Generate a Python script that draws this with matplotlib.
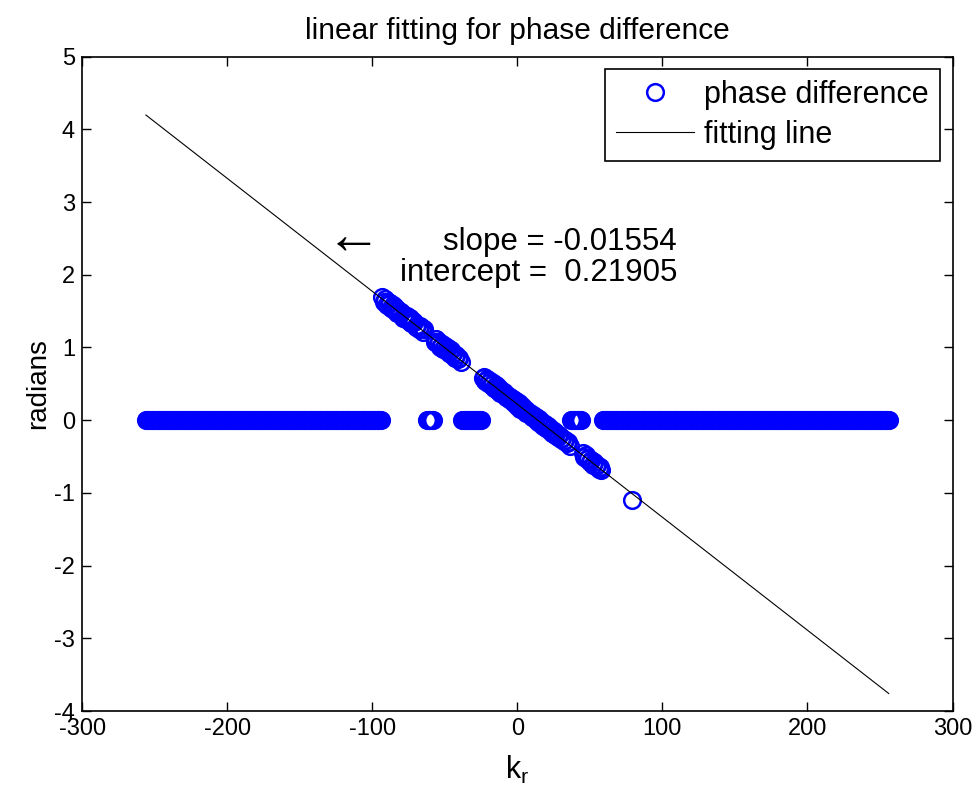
import numpy as np
import matplotlib
matplotlib.use("Agg")
import matplotlib.pyplot as plt

plt.rcParams["font.family"] = ["Liberation Sans", "DejaVu Sans"]
plt.rcParams["axes.unicode_minus"] = False

# k_r ranges where the phase difference is exactly zero (integer k_r)
zero_start = [-256, -62, -38, 37, 59]
zero_end = [-94, -58, -25, 44, 256]

# points that follow the fitted line
diag_k = list(range(-93, -63)) + list(range(-57, -38)) + list(range(-24, 37)) \
    + list(range(45, 59)) + [79]
diag_phase = [
    # k = -93 .. -64
    1.69, 1.62, 1.66, 1.59, 1.63, 1.61, 1.54, 1.58, 1.52, 1.55,
    1.48, 1.52, 1.46, 1.49, 1.41, 1.45, 1.39, 1.43, 1.36, 1.40,
    1.33, 1.36, 1.35, 1.28, 1.31, 1.25, 1.29, 1.27, 1.21, 1.25,
    # k = -57 .. -39
    1.08, 1.12, 1.05, 1.07, 1.01, 1.05, 0.98, 1.02, 0.96, 0.99,
    0.92, 0.96, 0.90, 0.93, 0.86, 0.89, 0.84, 0.86, 0.80,
    # k = -24 .. 36
    0.58, 0.60, 0.54, 0.57, 0.51, 0.54, 0.48, 0.51, 0.44, 0.48,
    0.42, 0.45, 0.38, 0.42, 0.36, 0.39, 0.32, 0.35, 0.29, 0.32,
    0.26, 0.29, 0.23, 0.26, 0.20, 0.23, 0.16, 0.20, 0.14, 0.16,
    0.10, 0.13, 0.08, 0.10, 0.04, 0.07, 0.01, 0.04, -0.02, 0.01,
    -0.05, -0.02, -0.08, -0.05, -0.11, -0.08, -0.14, -0.12, -0.17, -0.15,
    -0.20, -0.18, -0.23, -0.21, -0.26, -0.24, -0.29, -0.27, -0.32, -0.30,
    -0.35,
    # k = 45 .. 58
    -0.45, -0.50, -0.48, -0.54, -0.52, -0.57, -0.55, -0.61, -0.58, -0.63,
    -0.61, -0.67, -0.64, -0.69,
    # k = 79
    -1.10,
]

slope = -0.01554
intercept = 0.21905
fit_range = [-256, 256]

zero_k = np.concatenate([np.arange(a, b + 1) for a, b in zip(zero_start, zero_end)])
k_all = np.concatenate([zero_k, diag_k])
phase_all = np.concatenate([np.zeros(len(zero_k)), diag_phase])

fig = plt.figure(figsize=(9.77, 7.98), dpi=100)
ax = fig.add_axes([0.084, 0.109, 0.891, 0.820])

ax.plot(k_all, phase_all, "o", color="blue", mfc="none", ms=12, mew=1.8,
        label="phase difference")
fit_x = np.array(fit_range)
ax.plot(fit_x, np.polyval([slope, intercept], fit_x), "-", color="black", lw=0.8,
        label="fitting line")

ax.set_xlim(-300, 300)
ax.set_ylim(-4, 5)
ax.set_xticks(range(-300, 301, 100))
ax.set_yticks(range(-4, 6))
ax.tick_params(direction="in", length=6.5, width=1, top=True, right=True,
               labelsize=17, pad=5)
for s in ax.spines.values():
    s.set_linewidth(1.2)

ax.set_title("linear fitting for phase difference", fontsize=21.5, pad=13)
ax.set_xlabel("k$_\\mathregular{r}$", fontsize=22, labelpad=10)
ax.set_ylabel("radians", fontsize=20, labelpad=2)

ax.text(-113, 2.49, "\u2190", fontsize=40, ha="center", va="center")
ax.text(110, 2.45, "slope = -0.01554", fontsize=22.5, ha="right", va="center")
ax.text(110, 2.02, "intercept =  0.21905", fontsize=22.5, ha="right", va="center")

leg = ax.legend(loc="upper right", fontsize=22, numpoints=1, fancybox=False,
                framealpha=1, edgecolor="black", borderaxespad=0.42,
                handlelength=2.55, borderpad=0.35, labelspacing=0.32, handletextpad=0.35)
leg.get_frame().set_linewidth(1.2)

fig.savefig("out.png", dpi=100)
